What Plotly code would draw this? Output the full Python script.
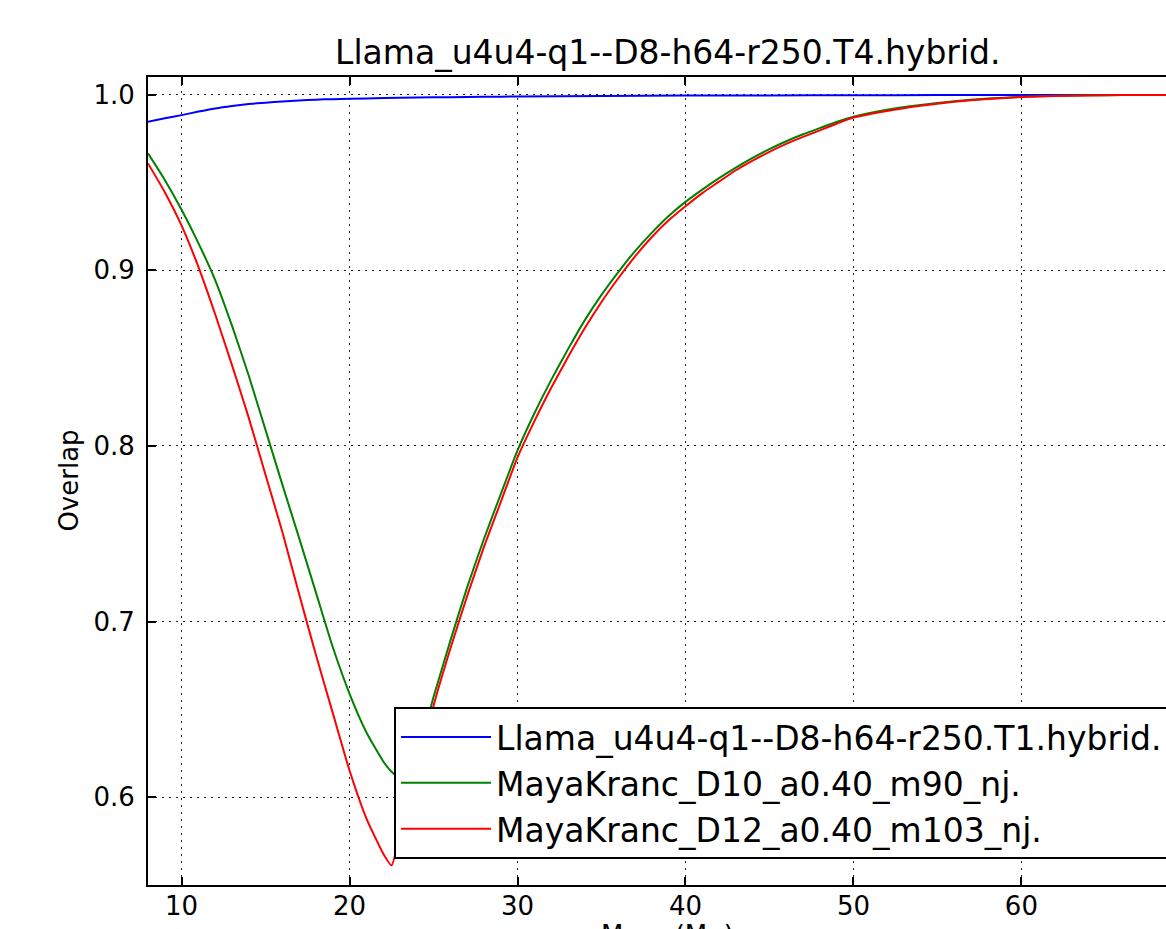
import plotly.graph_objects as go

# ---- data ----
mass_blue = [8, 9, 10, 11, 12, 13, 14, 15, 16, 17, 18, 19, 20, 22, 24, 26, 28, 30,
             35, 40, 45, 50, 55, 60, 65, 70]
overlap_blue = [0.9846, 0.9866, 0.9884, 0.9904, 0.9922, 0.9936, 0.9947, 0.9955, 0.9962,
                0.9967, 0.9972, 0.9975, 0.9977, 0.9981, 0.9984, 0.9986, 0.9988, 0.9990,
                0.9993, 0.9995, 0.9996, 0.9997, 0.9998, 0.9998, 0.9999, 0.9999]

mass_mk = [8, 9, 10, 11, 12, 13, 14, 15, 16, 17, 18, 19, 20, 21, 22,
           22.5, 23, 23.5, 24, 24.5,
           25, 26, 27, 28, 29, 30, 31, 32, 33, 34, 35, 36, 37, 38, 39, 40,
           41, 42, 43, 44, 45, 46, 47, 48, 49, 50,
           52, 54, 56, 58, 60, 62, 64, 66, 68, 70]
overlap_green = [0.9666, 0.9515, 0.9345, 0.9155, 0.8945, 0.8685, 0.840, 0.809, 0.778, 0.7475,
                 0.7165, 0.6855, 0.6589, 0.637, 0.6205,
                 0.6145, 0.611, 0.6135, 0.624, 0.639,
                 0.657, 0.689, 0.7195, 0.747, 0.7725, 0.7975, 0.8185, 0.8375, 0.855, 0.8715,
                 0.886, 0.899, 0.911, 0.9215, 0.931, 0.939,
                 0.946, 0.9525, 0.9585, 0.964, 0.969, 0.9735, 0.9775, 0.981, 0.9845, 0.9875,
                 0.9915, 0.9942, 0.9963, 0.9978, 0.9988, 0.9994, 0.9997, 0.9998, 0.9999, 0.9999]
overlap_red = [0.9609, 0.9445, 0.9255, 0.902, 0.875, 0.846, 0.816, 0.7835, 0.751, 0.7155,
               0.681, 0.648, 0.6152, 0.588, 0.568,
               0.5612, 0.578, 0.592, 0.609, 0.630,
               0.652, 0.6845, 0.7145, 0.7425, 0.768, 0.7935, 0.814, 0.833, 0.8505, 0.867,
               0.882, 0.8955, 0.908, 0.919, 0.9285, 0.9365,
               0.944, 0.9505, 0.957, 0.9625, 0.9675, 0.972, 0.976, 0.9797, 0.9835, 0.987,
               0.9908, 0.9937, 0.996, 0.9976, 0.9987, 0.9993, 0.9996, 0.9998, 0.9999, 0.9999]

names = ["Llama_u4u4-q1--D8-h64-r250.T1.hybrid.",
         "MayaKranc_D10_a0.40_m90_nj.",
         "MayaKranc_D12_a0.40_m103_nj."]
colors = ["#0000ff", "#008000", "#ff0000"]
title_text = "Llama_u4u4-q1--D8-h64-r250.T4.hybrid."
x_ticks = [10, 20, 30, 40, 50, 60, 70]
y_ticks = [0.6, 0.7, 0.8, 0.9, 1.0]

FONT = "DejaVu Sans"

fig = go.Figure()
series = [(mass_blue, overlap_blue), (mass_mk, overlap_green), (mass_mk, overlap_red)]
for (xs, ys), nm, col in zip(series, names, colors):
    fig.add_trace(go.Scatter(x=xs, y=ys, mode="lines", name=nm,
                             line=dict(color=col, width=2, shape="spline", smoothing=0.5)))

axis_common = dict(
    showline=True, linecolor="black", linewidth=2,
    ticks="inside", ticklen=8, tickwidth=1.5, tickcolor="black",
    showgrid=True, gridcolor="#222222", gridwidth=1, griddash="2px,5px",
    zeroline=False,
    tickfont=dict(family=FONT, size=26, color="black"),
)

fig.update_xaxes(range=[8, 68.61], tickvals=x_ticks, mirror="ticks",
                 ticklabelstandoff=-3, **axis_common)
fig.update_yaxes(range=[0.55, 1.0101], tickvals=y_ticks, ticktext=[f"{v:.1f}" for v in y_ticks],
                 mirror=False, ticklabelstandoff=6, **axis_common)

fig.update_layout(
    width=1166, height=929,
    margin=dict(l=148, r=0, t=77, b=44, autoexpand=False),
    paper_bgcolor="white", plot_bgcolor="white",
    font=dict(family=FONT, color="black"),
    showlegend=True,
    legend=dict(x=0.2417, y=0.2203, xanchor="left", yanchor="top",
                bgcolor="white", bordercolor="black", borderwidth=2,
                font=dict(family=FONT, size=33, color="black"),
                itemwidth=90),
    annotations=[
        dict(text=title_text, xref="paper", yref="paper", x=0.5108, y=1.004,
             xanchor="center", yanchor="bottom", showarrow=False,
             font=dict(family=FONT, size=33, color="black")),
        dict(text="Overlap", xref="paper", yref="paper", x=-0.078, y=0.5,
             xanchor="center", yanchor="middle", textangle=-90, showarrow=False,
             font=dict(family=FONT, size=26, color="black")),
        dict(text="Mass (M<sub>☉</sub>)", xref="paper", yref="paper", x=0.5108, y=-0.041,
             xanchor="center", yanchor="top", showarrow=False,
             font=dict(family=FONT, size=26, color="black")),
    ],
)

fig.write_html("out.html")
